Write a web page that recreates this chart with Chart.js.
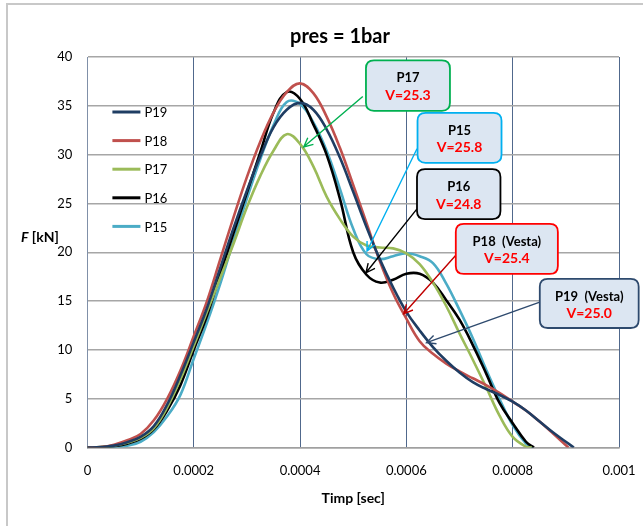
<!DOCTYPE html>
<html>
<head>
<meta charset="utf-8">
<script src="https://cdn.jsdelivr.net/npm/chart.js@4.4.1/dist/chart.umd.min.js"></script>
<style>
  html, body { margin: 0; padding: 0; background: #fff; }
  #wrap { width: 643px; height: 526px; position: relative; }
</style>
</head>
<body>
<div id="wrap"><canvas id="chart"></canvas></div>
<script>
/* pres = 1bar — force vs time, five shots */

// ---------------------- Data ----------------------
const X_TICK_LABELS = ['0', '0.0002', '0.0004', '0.0006', '0.0008', '0.001'];

// sample times in microseconds (converted to seconds below)
const timeP19 = [0, 25, 50, 75, 100, 125, 150, 175, 200, 225, 250, 275, 300, 325, 350, 375, 400, 425, 450, 475, 500, 525, 550, 575, 600, 625, 650, 675, 700, 725, 750, 775, 800, 825, 850, 875, 900, 915];
const forceP19 = [0, 0.05, 0.2, 0.55, 1.1, 2.2, 4.4, 7.4, 10.8, 14.3, 18.4, 22.5, 26.3, 29.8, 32.8, 34.6, 35.3, 34.6, 32.6, 29.7, 26.2, 22.6, 19.3, 16.4, 13.9, 12.0, 10.3, 8.9, 7.7, 6.7, 6.0, 5.4, 4.7, 3.8, 2.7, 1.6, 0.6, 0];

const timeP18 = [0, 25, 50, 75, 100, 125, 150, 175, 200, 225, 250, 275, 300, 325, 350, 375, 400, 425, 450, 475, 500, 525, 550, 575, 600, 625, 650, 675, 700, 725, 750, 775, 800, 825, 850, 875, 905];
const forceP18 = [0, 0.05, 0.3, 0.75, 1.4, 2.8, 5.0, 7.9, 11.4, 15.0, 19.3, 23.6, 27.7, 31.3, 34.3, 36.4, 37.3, 36.3, 33.9, 30.7, 26.9, 23.0, 19.1, 15.8, 13.2, 10.9, 9.6, 8.6, 7.8, 7.1, 6.4, 5.6, 4.7, 3.8, 2.7, 1.5, 0];

const timeP17 = [0, 25, 50, 75, 100, 125, 150, 175, 200, 225, 250, 275, 300, 325, 350, 375, 400, 425, 450, 475, 500, 525, 550, 575, 600, 625, 650, 675, 700, 725, 750, 775, 800, 825, 836];
const forceP17 = [0, 0.05, 0.2, 0.5, 1.0, 2.0, 4.1, 7.0, 10.4, 13.9, 17.4, 20.9, 24.6, 27.8, 30.4, 32.1, 31.1, 28.8, 25.7, 23.4, 21.6, 20.7, 20.5, 20.4, 19.9, 18.8, 16.9, 14.5, 11.7, 9.0, 6.2, 3.3, 1.1, 0.1, 0];

const timeP16 = [0, 25, 50, 75, 100, 125, 150, 175, 200, 225, 250, 275, 300, 325, 350, 375, 400, 425, 450, 475, 500, 525, 550, 575, 600, 625, 650, 675, 700, 725, 750, 775, 800, 825, 840];
const forceP16 = [0, 0.03, 0.15, 0.4, 0.9, 1.9, 3.8, 6.4, 10.0, 13.5, 17.8, 22.0, 26.1, 30.2, 34.3, 36.4, 35.7, 33.1, 30.0, 25.5, 20.0, 17.7, 16.9, 17.2, 17.8, 17.8, 16.9, 15.1, 13.1, 10.5, 7.6, 4.6, 2.5, 0.6, 0];

const timeP15 = [0, 25, 50, 75, 100, 125, 150, 175, 200, 225, 250, 275, 300, 325, 350, 375, 400, 425, 450, 475, 500, 525, 550, 575, 600, 625, 650, 675, 700, 725, 750, 775, 800, 825, 838];
const forceP15 = [0, 0.01, 0.05, 0.2, 0.6, 1.6, 3.2, 5.4, 9.1, 12.8, 16.8, 21.2, 25.5, 29.5, 33.0, 35.4, 35.2, 33.3, 30.4, 26.5, 22.4, 19.8, 19.3, 19.6, 19.9, 19.6, 18.9, 16.8, 14.1, 11.2, 8.0, 5.0, 2.3, 0.4, 0];

// ---------------------- Styles ----------------------
const FONT = 'Lato, "Open Sans", sans-serif';
const COLORS = { p19: '#1f3d63', p18: '#c0504d', p17: '#9bbb59', p16: '#000000', p15: '#4bacc6' };

const SERIES = [
  { label: 'P19', t: timeP19, f: forceP19, color: COLORS.p19 },
  { label: 'P18', t: timeP18, f: forceP18, color: COLORS.p18 },
  { label: 'P17', t: timeP17, f: forceP17, color: COLORS.p17 },
  { label: 'P16', t: timeP16, f: forceP16, color: COLORS.p16 },
  { label: 'P15', t: timeP15, f: forceP15, color: COLORS.p15 },
];

// callout boxes: box = [t1, t2, F1, F2], arrow from -> tip (data units)
const CALLOUTS = [
  { name: 'P17', speed: 'V=25.3', border: '#00b050', arrow: '#00b050', box: [0.000524, 0.000682, 39.66, 34.49], from: [0.000518, 35.95], tip: [0.000407, 30.8] },
  { name: 'P15', speed: 'V=25.8', border: '#00b0f0', arrow: '#00b0f0', box: [0.000621, 0.000779, 34.28, 29.16], from: [0.00062, 30.6], tip: [0.000526, 20.14] },
  { name: 'P16', speed: 'V=24.8', border: '#000000', arrow: '#000000', box: [0.00062, 0.000777, 28.52, 23.4], from: [0.00062, 24.45], tip: [0.000524, 17.9] },
  { name: 'P18  (Vesta)', speed: 'V=25.4', border: '#ff0000', arrow: '#c00000', box: [0.000693, 0.000885, 22.91, 17.79], from: [0.000693, 19.7], tip: [0.000595, 13.7] },
  { name: 'P19  (Vesta)', speed: 'V=25.0', border: '#2e4a6e', arrow: '#2e4a6e', box: [0.000851, 0.001037, 17.28, 12.25], from: [0.000851, 14.9], tip: [0.000638, 10.75] },
];

// ---------------------- Helpers ----------------------
function roundRect(ctx, x, y, w, h, r) {
  ctx.beginPath();
  ctx.moveTo(x + r, y);
  ctx.lineTo(x + w - r, y);
  ctx.quadraticCurveTo(x + w, y, x + w, y + r);
  ctx.lineTo(x + w, y + h - r);
  ctx.quadraticCurveTo(x + w, y + h, x + w - r, y + h);
  ctx.lineTo(x + r, y + h);
  ctx.quadraticCurveTo(x, y + h, x, y + h - r);
  ctx.lineTo(x, y + r);
  ctx.quadraticCurveTo(x, y, x + r, y);
  ctx.closePath();
}

function drawArrow(ctx, x1, y1, x2, y2, color) {
  const ang = Math.atan2(y2 - y1, x2 - x1);
  const len = 10, spread = 0.45;
  ctx.save();
  ctx.strokeStyle = color;
  ctx.lineWidth = 1.4;
  ctx.beginPath();
  ctx.moveTo(x1, y1);
  ctx.lineTo(x2, y2);
  ctx.moveTo(x2 - len * Math.cos(ang - spread), y2 - len * Math.sin(ang - spread));
  ctx.lineTo(x2, y2);
  ctx.lineTo(x2 - len * Math.cos(ang + spread), y2 - len * Math.sin(ang + spread));
  ctx.stroke();
  ctx.restore();
}

// ---------------------- Plugins ----------------------
const framePlugin = {
  id: 'frame',
  beforeDraw(chart) {
    const c = chart.ctx;
    c.save();
    c.fillStyle = '#fff';
    c.fillRect(0, 0, chart.width, chart.height);
    c.strokeStyle = '#c8c8c8';
    c.lineWidth = 2;
    c.strokeRect(7, 4, chart.width + 10, chart.height + 10);
    c.restore();
  },
};

const decorPlugin = {
  id: 'decor',
  afterDatasetsDraw(chart) {
    const c = chart.ctx;
    const xs = chart.scales.x, ys = chart.scales.y;
    const area = chart.chartArea;

    // legend inside plot
    c.save();
    c.font = '13px ' + FONT;
    c.textBaseline = 'middle';
    SERIES.forEach((s, i) => {
      const y = area.top + 55 + i * 28.6;
      const x = area.left + 25;
      c.strokeStyle = s.color;
      c.lineWidth = 3;
      c.beginPath();
      c.moveTo(x, y);
      c.lineTo(x + 28, y);
      c.stroke();
      c.fillStyle = '#000';
      c.fillText(s.label, x + 32, y + 1);
    });
    c.restore();

    // callouts
    CALLOUTS.forEach(co => {
      drawArrow(c,
        xs.getPixelForValue(co.from[0]), ys.getPixelForValue(co.from[1]),
        xs.getPixelForValue(co.tip[0]), ys.getPixelForValue(co.tip[1]), co.arrow);
    });
    CALLOUTS.forEach(co => {
      const x1 = xs.getPixelForValue(co.box[0]);
      const x2 = xs.getPixelForValue(co.box[1]);
      const y1 = ys.getPixelForValue(co.box[2]);
      const y2 = ys.getPixelForValue(co.box[3]);
      c.save();
      roundRect(c, x1, y1, x2 - x1, y2 - y1, 8);
      c.fillStyle = '#dce6f2';
      c.fill();
      c.strokeStyle = co.border;
      c.lineWidth = 1.8;
      c.stroke();
      c.textAlign = 'center';
      c.textBaseline = 'middle';
      const cx = (x1 + x2) / 2;
      c.fillStyle = '#000';
      c.font = 'bold 13px ' + FONT;
      c.fillText(co.name, cx, y1 + 17.5);
      c.fillStyle = '#ff0000';
      c.font = 'bold 14px ' + FONT;
      c.fillText(co.speed, cx, y1 + 35);
      c.restore();
    });
  },
  afterDraw(chart) {
    const c = chart.ctx;
    const area = chart.chartArea;
    c.save();
    c.fillStyle = '#000';
    c.textBaseline = 'middle';

    c.textAlign = 'center';
    c.font = 'bold 20px ' + FONT;
    c.fillText('pres = 1bar', 340, 37);

    c.font = 'bold 14px ' + FONT;
    c.fillText('Timp [sec]', (area.left + area.right) / 2, 498);

    c.textAlign = 'left';
    c.font = 'italic bold 14px ' + FONT;
    c.fillText('F', 21, 237);
    const w = c.measureText('F').width;
    c.font = 'bold 14px ' + FONT;
    c.fillText(' [kN]', 21 + w, 237);
    c.restore();
  },
};

// ---------------------- Chart ----------------------
new Chart(document.getElementById('chart'), {
  type: 'scatter',
  data: {
    datasets: SERIES.map(s => ({
      label: s.label,
      data: s.t.map((t, i) => ({ x: t * 1e-6, y: s.f[i] })),
      showLine: true,
      borderColor: s.color,
      backgroundColor: s.color,
      borderWidth: 2.6,
      pointRadius: 0,
      tension: 0.4,
    })),
  },
  options: {
    responsive: true,
    maintainAspectRatio: false,
    animation: false,
    layout: { padding: { top: 57, right: 24, left: 0, bottom: 0 } },
    plugins: {
      legend: { display: false },
      tooltip: { enabled: false },
    },
    scales: {
      x: {
        type: 'linear',
        min: 0,
        max: 0.001,
        afterFit: (scale) => {
          scale.height = 78.4;
          scale.paddingLeft = 0;
          scale.paddingRight = 0;
        },
        ticks: {
          stepSize: 0.0002,
          padding: 15,
          color: '#000',
          font: { family: FONT, size: 13 },
          maxRotation: 0,
          callback: (val, i) => X_TICK_LABELS[i],
        },
        grid: { color: '#50688c', lineWidth: 1, drawTicks: false },
        border: { color: '#a0a0a0', width: 1.5 },
      },
      y: {
        min: 0,
        max: 40,
        afterFit: (scale) => {
          scale.width = 87.4;
          scale.paddingTop = 0;
          scale.paddingBottom = 0;
        },
        ticks: {
          stepSize: 5,
          padding: 15,
          color: '#000',
          font: { family: FONT, size: 13 },
        },
        grid: { color: '#a6a6a6', lineWidth: 1.5, drawTicks: false },
        border: { color: '#8090a8', width: 1 },
      },
    },
  },
  plugins: [framePlugin, decorPlugin],
});
</script>
</body>
</html>
